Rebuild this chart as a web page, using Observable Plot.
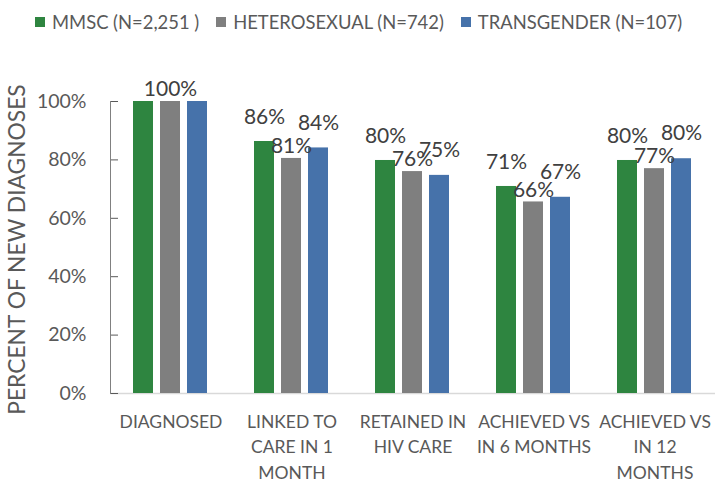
<!DOCTYPE html>
<html>
<head>
<meta charset="utf-8">
<script src="https://cdn.jsdelivr.net/npm/d3@7"></script>
<script src="https://cdn.jsdelivr.net/npm/@observablehq/plot@0.6"></script>
<style>
  body { margin: 0; background: #fff; font-family: Lato, "Open Sans", sans-serif; }
  #legend { height: 44px; display: flex; align-items: center; padding-left: 35px; box-sizing: border-box; color: #595959; font-size: 18.4px; }
  #legend .item { display: flex; align-items: center; margin-right: 17px; }
  #legend .sw { width: 10px; height: 10px; margin-right: 7px; }
</style>
</head>
<body>
<div id="legend"></div>
<div id="chart"></div>
<script>
const stages = ["DIAGNOSED", "LINKED TO CARE IN 1 MONTH", "RETAINED IN HIV CARE", "ACHIEVED VS IN 6 MONTHS", "ACHIEVED VS IN 12 MONTHS"];
const stageLabels = ["DIAGNOSED", "LINKED TO\nCARE IN 1\nMONTH", "RETAINED IN\nHIV CARE", "ACHIEVED VS\nIN 6 MONTHS", "ACHIEVED VS\nIN 12\nMONTHS"];
const seriesKeys = ["MMSC", "HETEROSEXUAL", "TRANSGENDER"];
const seriesNames = ["MMSC (N=2,251 )", "HETEROSEXUAL (N=742)", "TRANSGENDER (N=107)"];
const mmsc = [1.00, 0.863, 0.798, 0.709, 0.798];
const hetero = [1.00, 0.805, 0.760, 0.656, 0.770];
const trans = [1.00, 0.841, 0.747, 0.672, 0.804];
const yTicks = [0, 0.2, 0.4, 0.6, 0.8, 1.0];
const yTitle = "PERCENT OF NEW DIAGNOSES";
const colors = ["#2e8540", "#7f7f7f", "#4672aa"];
const labelDy = [-24, -12, -25];

const seriesValues = [mmsc, hetero, trans];
const rows = [];
seriesKeys.forEach((s, j) => stages.forEach((st, i) => rows.push({stage: st, series: s, value: seriesValues[j][i]})));

// legend
const legend = d3.select("#legend");
seriesKeys.forEach((s, j) => {
  const it = legend.append("div").attr("class", "item");
  it.append("div").attr("class", "sw").style("background", colors[j]);
  it.append("span").text(seriesNames[j]);
});

const fmt = d3.format(".0%");
const showLabel = d => d.stage !== stages[0] || d.series === seriesKeys[1];

const plot = Plot.plot({
  width: 715,
  height: 439,
  marginLeft: 110,
  marginRight: 0,
  marginTop: 57,
  marginBottom: 90,
  style: {fontFamily: "Lato, 'Open Sans', sans-serif", color: "#595959", background: "#fff", overflow: "visible"},
  fx: {domain: stages, padding: 0, axis: null},
  x: {domain: seriesKeys, paddingInner: 0.25, paddingOuter: 0.79, axis: null},
  y: {domain: [0, 1], axis: null},
  color: {domain: seriesKeys, range: colors},
  marks: [
    Plot.ruleY([0], {stroke: "#d9d9d9", strokeWidth: 1.5}),
    Plot.barY(rows, {fx: "stage", x: "series", y: "value", fill: "series"}),
    ...seriesKeys.map((s, j) => Plot.text(rows.filter(d => d.series === s && showLabel(d)), {
      fx: "stage", x: "series", y: "value", text: d => fmt(d.value),
      dy: labelDy[j], lineAnchor: "middle", fontSize: 21, fill: "#404040"
    })),
    Plot.text(stages, {fx: d => d, text: d => stageLabels[stages.indexOf(d)], frameAnchor: "bottom",
      lineAnchor: "top", dy: 16, fontSize: 17.5, lineHeight: 25.5 / 17.5, fill: "#595959"}),
    Plot.axisY({ticks: yTicks, tickFormat: fmt, tickSize: -8, tickPadding: 32, fontSize: 19.5, color: "#595959", label: null}),
    Plot.frame({anchor: "left", stroke: "#808080", facet: "super"}),
    Plot.text([yTitle], {frameAnchor: "left", rotate: -90, dx: -93, dy: 2, textAnchor: "middle", fontSize: 22.8, fill: "#595959", facet: "super"})
  ]
});
document.getElementById("chart").appendChild(plot);
</script>
</body>
</html>
